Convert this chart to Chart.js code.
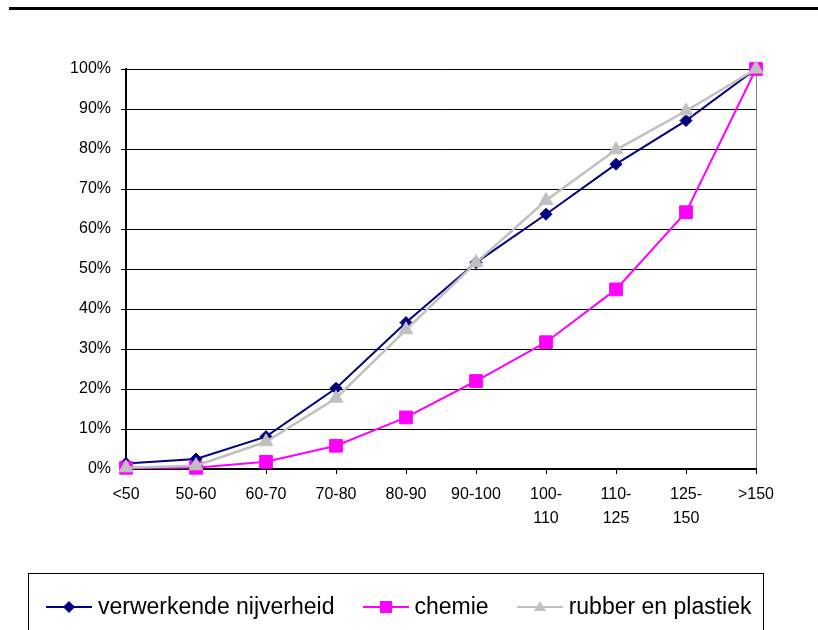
<!DOCTYPE html>
<html>
<head>
<meta charset="utf-8">
<script src="https://cdn.jsdelivr.net/npm/chart.js@4"></script>
<style>
  html, body { margin: 0; padding: 0; background: #fff; }
  #wrap { position: relative; width: 818px; height: 630px; overflow: hidden; font-family: "Liberation Sans", Arial, sans-serif; }
  #rule { position: absolute; left: 9px; top: 7px; width: 809px; height: 3px; background: #000; }
  #legend {
    position: absolute; left: 28px; top: 573px; width: 736px; height: 90px;
    border: 1px solid #000; box-sizing: border-box;
    display: flex; align-items: flex-start; padding: 19px 0 0 17px;
    font-size: 23px; color: #000;
  }
  #legend .item { display: flex; align-items: center; margin-right: 28px; white-space: nowrap; }
  #legend canvas { margin-right: 6px; }
</style>
</head>
<body>
<div id="wrap">
  <div id="rule"></div>
  <canvas id="chart" width="818" height="630"></canvas>
  <div id="legend"></div>
</div>
<script>
// income classes (x axis)
const categories = ['<50', '50-60', '60-70', '70-80', '80-90', '90-100', ['100-', '110'], ['110-', '125'], ['125-', '150'], '>150'];

// cumulative share per sector, in %
const verwerkend = [1.4, 2.5, 8.1, 20.2, 36.6, 51.6, 63.7, 76.2, 87.1, 100];
const chemie = [0.3, 0.3, 1.8, 5.8, 12.9, 22.0, 31.7, 44.9, 64.2, 100];
const rubber = [0.3, 0.8, 6.8, 17.7, 34.8, 51.6, 67.1, 79.8, 89.5, 100];

const seriesNames = ['verwerkende nijverheid', 'chemie', 'rubber en plastiek'];

const datasets = [
  { label: seriesNames[0], data: verwerkend, borderColor: '#000080', backgroundColor: '#000080',
    pointStyle: 'rectRot', pointRadius: 6, borderWidth: 2, order: 3 },
  { label: seriesNames[1], data: chemie, borderColor: '#FF00FF', backgroundColor: '#FF00FF',
    pointStyle: 'rect', pointRadius: 9, borderWidth: 2, order: 2 },
  { label: seriesNames[2], data: rubber, borderColor: '#C0C0C0', backgroundColor: '#C0C0C0',
    pointStyle: 'triangle', pointRadius: 8, borderWidth: 2.5, order: 1 },
];
datasets.forEach(d => { d.clip = false; d.tension = 0; d.fill = false; d.pointBorderWidth = 1; });

const lastIdx = categories.length - 1;
const tickFont = '"Liberation Sans", Arial, sans-serif';

new Chart(document.getElementById('chart').getContext('2d'), {
  type: 'line',
  data: { labels: categories, datasets: datasets },
  options: {
    responsive: false,
    animation: false,
    layout: { padding: { top: 69, right: 62, bottom: 61, left: 0 } },
    plugins: { legend: { display: false }, tooltip: { enabled: false } },
    scales: {
      x: {
        offset: false,
        afterFit: scale => { scale.height = 100; },
        border: { color: '#000', width: 2 },
        grid: {
          drawOnChartArea: true,
          color: c => c.index === lastIdx ? '#808080' : 'rgba(0,0,0,0)',
          tickColor: '#000',
          tickLength: 5,
          lineWidth: 1,
        },
        ticks: {
          autoSkip: false, maxRotation: 0, padding: 9, color: '#000',
          font: { family: tickFont, size: 16, lineHeight: 1.5 },
        },
      },
      y: {
        min: 0, max: 100,
        afterFit: scale => { scale.width = 126; },
        border: { color: '#000', width: 2 },
        grid: { color: '#000', lineWidth: 1, tickLength: 5 },
        ticks: {
          stepSize: 10, padding: 10, color: '#000',
          font: { family: tickFont, size: 16 },
          callback: v => v + '%',
        },
      },
    },
  },
});

// legend: line sample with marker, then the series name
const legend = document.getElementById('legend');
datasets.forEach(d => {
  const item = document.createElement('div');
  item.className = 'item';
  const sw = document.createElement('canvas');
  sw.width = 46; sw.height = 20;
  const g = sw.getContext('2d');
  g.strokeStyle = d.borderColor;
  g.fillStyle = d.backgroundColor;
  g.lineWidth = 2;
  g.beginPath(); g.moveTo(0, 10); g.lineTo(46, 10); g.stroke();
  const cx = 23, cy = 10;
  g.beginPath();
  if (d.pointStyle === 'rectRot') {
    g.moveTo(cx, cy - 6); g.lineTo(cx + 6, cy); g.lineTo(cx, cy + 6); g.lineTo(cx - 6, cy);
  } else if (d.pointStyle === 'rect') {
    g.rect(cx - 6, cy - 6, 12, 12);
  } else {
    g.moveTo(cx, cy - 6); g.lineTo(cx + 6, cy + 4); g.lineTo(cx - 6, cy + 4);
  }
  g.closePath(); g.fill();
  const txt = document.createElement('span');
  txt.textContent = d.label;
  item.appendChild(sw);
  item.appendChild(txt);
  legend.appendChild(item);
});
</script>
</body>
</html>
